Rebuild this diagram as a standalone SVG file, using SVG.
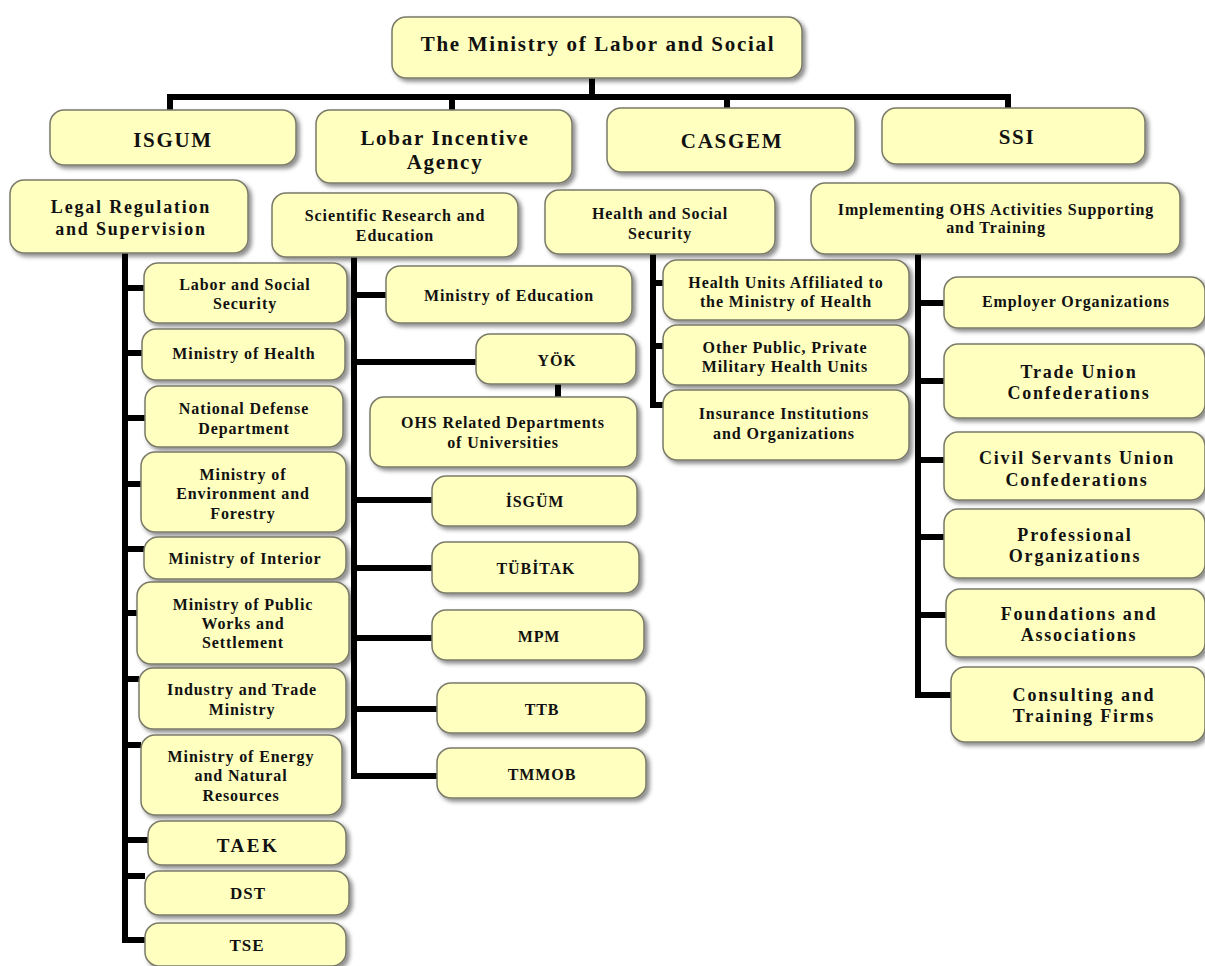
<svg xmlns="http://www.w3.org/2000/svg" width="1205" height="966" viewBox="0 0 1205 966">
<defs>
<filter id="sh" x="-10%" y="-20%" width="125%" height="150%">
<feDropShadow dx="3" dy="3" stdDeviation="2" flood-color="#000" flood-opacity="0.45"/>
</filter>
</defs>
<style>
.b{fill:#ffffc0;stroke:#7a7a6a;stroke-width:1.5;filter:url(#sh)}
text{font-family:"Liberation Serif","DejaVu Serif",serif;font-weight:bold;fill:#111;text-anchor:middle}
.t1{font-size:21px;letter-spacing:1.7px}
.t2{font-size:18px;letter-spacing:1.8px}
.t3{font-size:16px;letter-spacing:0.9px}
.t4{font-size:16px;letter-spacing:0.9px}
.c{stroke:#000;stroke-width:6;fill:none;stroke-linejoin:miter}
</style>
<rect width="1205" height="966" fill="#fff"/>
<g id="connectors">
<path class="c" d="M592 78V97M170 110V97H1008V110M452 97V110M727 97V110"/>
<path class="c" d="M125 253V940H145M125 288H144M125 353H142M125 418H145M125 484H141M125 549H144M125 613H137M125 679H139M125 745H141M125 840H148M125 876H145"/>
<path class="c" d="M354 257V776H437M354 295H386M354 362H476M354 500H432M354 568H432M354 638H432M354 709H437M558 384V397"/>
<path class="c" d="M653 254V405H663M653 283H663M653 346H663"/>
<path class="c" d="M918 254V695H951M918 303H944M918 381H944M918 460H944M918 537H944M918 615H946"/>
</g>
<circle cx="142" cy="810" r="13" fill="#fff"/>
<g id="n-ministry"><rect class="b" x="392" y="17" width="410" height="61" rx="14"/><text class="t1" x="598" y="51">The Ministry of Labor and Social</text></g>
<g id="n-isgum"><rect class="b" x="50" y="110" width="246" height="55" rx="14"/><text class="t1" x="173" y="147">ISGUM</text></g>
<g id="n-lobar"><rect class="b" x="316" y="110" width="256" height="73" rx="14"/><text class="t1" x="445" y="145">Lobar Incentive</text><text class="t1" x="445" y="169">Agency</text></g>
<g id="n-casgem"><rect class="b" x="607" y="108" width="248" height="64" rx="14"/><text class="t1" x="732" y="148">CASGEM</text></g>
<g id="n-ssi"><rect class="b" x="882" y="108" width="263" height="56" rx="14"/><text class="t1" x="1017" y="144">SSI</text></g>
<g id="n-legal"><rect class="b" x="10" y="180" width="238" height="73" rx="14"/><text class="t2" x="131" y="213">Legal Regulation</text><text class="t2" x="131" y="235">and Supervision</text></g>
<g id="n-sci"><rect class="b" x="272" y="193" width="246" height="64" rx="14"/><text class="t3" x="395" y="221">Scientific Research and</text><text class="t3" x="395" y="241">Education</text></g>
<g id="n-health"><rect class="b" x="545" y="190" width="230" height="64" rx="14"/><text class="t3" x="660" y="219">Health and Social</text><text class="t3" x="660" y="239">Security</text></g>
<g id="n-impl"><rect class="b" x="811" y="183" width="369" height="71" rx="14"/><text class="t3" x="996" y="215">Implementing OHS Activities Supporting</text><text class="t3" x="996" y="233">and Training</text></g>
<g id="n-labor"><rect class="b" x="144" y="263" width="203" height="60" rx="14"/><text class="t3" x="245" y="290">Labor and Social</text><text class="t3" x="245" y="309">Security</text></g>
<g id="n-moh"><rect class="b" x="142" y="329" width="203" height="51" rx="14"/><text class="t3" x="244" y="359">Ministry of Health</text></g>
<g id="n-nat"><rect class="b" x="145" y="386" width="198" height="61" rx="14"/><text class="t3" x="244" y="414">National Defense</text><text class="t3" x="244" y="434">Department</text></g>
<g id="n-env"><rect class="b" x="141" y="452" width="205" height="80" rx="14"/><text class="t3" x="243" y="480">Ministry of</text><text class="t3" x="243" y="499">Environment and</text><text class="t3" x="243" y="519">Forestry</text></g>
<g id="n-int"><rect class="b" x="144" y="537" width="202" height="42" rx="14"/><text class="t3" x="245" y="564">Ministry of Interior</text></g>
<g id="n-pub"><rect class="b" x="137" y="582" width="212" height="82" rx="14"/><text class="t3" x="243" y="610">Ministry of Public</text><text class="t3" x="243" y="629">Works and</text><text class="t3" x="243" y="648">Settlement</text></g>
<g id="n-ind"><rect class="b" x="139" y="668" width="207" height="61" rx="14"/><text class="t3" x="242" y="695">Industry and Trade</text><text class="t3" x="242" y="715">Ministry</text></g>
<g id="n-energy"><rect class="b" x="141" y="735" width="201" height="80" rx="14"/><text class="t3" x="241" y="762">Ministry of Energy</text><text class="t3" x="241" y="781">and Natural</text><text class="t3" x="241" y="801">Resources</text></g>
<g id="n-taek"><rect class="b" x="148" y="821" width="198" height="44" rx="14"/><text class="t2" x="248" y="852" style="font-size:19px;letter-spacing:2.5px">TAEK</text></g>
<g id="n-dst"><rect class="b" x="145" y="871" width="204" height="44" rx="14"/><text class="t4" x="248" y="899" style="font-size:17px">DST</text></g>
<g id="n-tse"><rect class="b" x="145" y="923" width="201" height="43" rx="14"/><text class="t4" x="247" y="951" style="font-size:17px">TSE</text></g>
<g id="n-moe"><rect class="b" x="386" y="266" width="246" height="57" rx="14"/><text class="t3" x="509" y="301">Ministry of Education</text></g>
<g id="n-yok"><rect class="b" x="476" y="334" width="160" height="50" rx="14"/><text class="t4" x="557" y="366">YÖK</text></g>
<g id="n-ohs"><rect class="b" x="370" y="397" width="267" height="70" rx="14"/><text class="t3" x="503" y="428">OHS Related Departments</text><text class="t3" x="503" y="448">of Universities</text></g>
<g id="n-isgum2"><rect class="b" x="432" y="476" width="205" height="50" rx="14"/><text class="t4" x="535" y="507">İSGÜM</text></g>
<g id="n-tubitak"><rect class="b" x="432" y="542" width="207" height="51" rx="14"/><text class="t4" x="536" y="574">TÜBİTAK</text></g>
<g id="n-mpm"><rect class="b" x="432" y="610" width="212" height="50" rx="14"/><text class="t4" x="539" y="642">MPM</text></g>
<g id="n-ttb"><rect class="b" x="437" y="683" width="209" height="50" rx="14"/><text class="t4" x="542" y="715">TTB</text></g>
<g id="n-tmmob"><rect class="b" x="437" y="748" width="209" height="50" rx="14"/><text class="t4" x="542" y="780">TMMOB</text></g>
<g id="n-hu"><rect class="b" x="663" y="260" width="246" height="60" rx="14"/><text class="t3" x="786" y="288">Health Units Affiliated to</text><text class="t3" x="786" y="307">the Ministry of Health</text></g>
<g id="n-other"><rect class="b" x="663" y="325" width="246" height="60" rx="14"/><text class="t3" x="785" y="353">Other Public, Private</text><text class="t3" x="785" y="372">Military Health Units</text></g>
<g id="n-ins"><rect class="b" x="663" y="390" width="246" height="70" rx="14"/><text class="t3" x="784" y="419">Insurance Institutions</text><text class="t3" x="784" y="439">and Organizations</text></g>
<g id="n-emp"><rect class="b" x="944" y="277" width="261" height="51" rx="14"/><text class="t4" x="1076" y="307">Employer Organizations</text></g>
<g id="n-trade"><rect class="b" x="944" y="344" width="261" height="74" rx="14"/><text class="t2" x="1079" y="378">Trade Union</text><text class="t2" x="1079" y="399">Confederations</text></g>
<g id="n-civil"><rect class="b" x="944" y="432" width="261" height="68" rx="14"/><text class="t2" x="1077" y="464">Civil Servants Union</text><text class="t2" x="1077" y="486">Confederations</text></g>
<g id="n-prof"><rect class="b" x="944" y="509" width="261" height="69" rx="14"/><text class="t2" x="1075" y="541">Professional</text><text class="t2" x="1075" y="562">Organizations</text></g>
<g id="n-found"><rect class="b" x="946" y="589" width="259" height="68" rx="14"/><text class="t2" x="1079" y="620">Foundations and</text><text class="t2" x="1079" y="641">Associations</text></g>
<g id="n-cons"><rect class="b" x="951" y="667" width="254" height="75" rx="14"/><text class="t2" x="1084" y="701">Consulting and</text><text class="t2" x="1084" y="722">Training Firms</text></g>
</svg>
